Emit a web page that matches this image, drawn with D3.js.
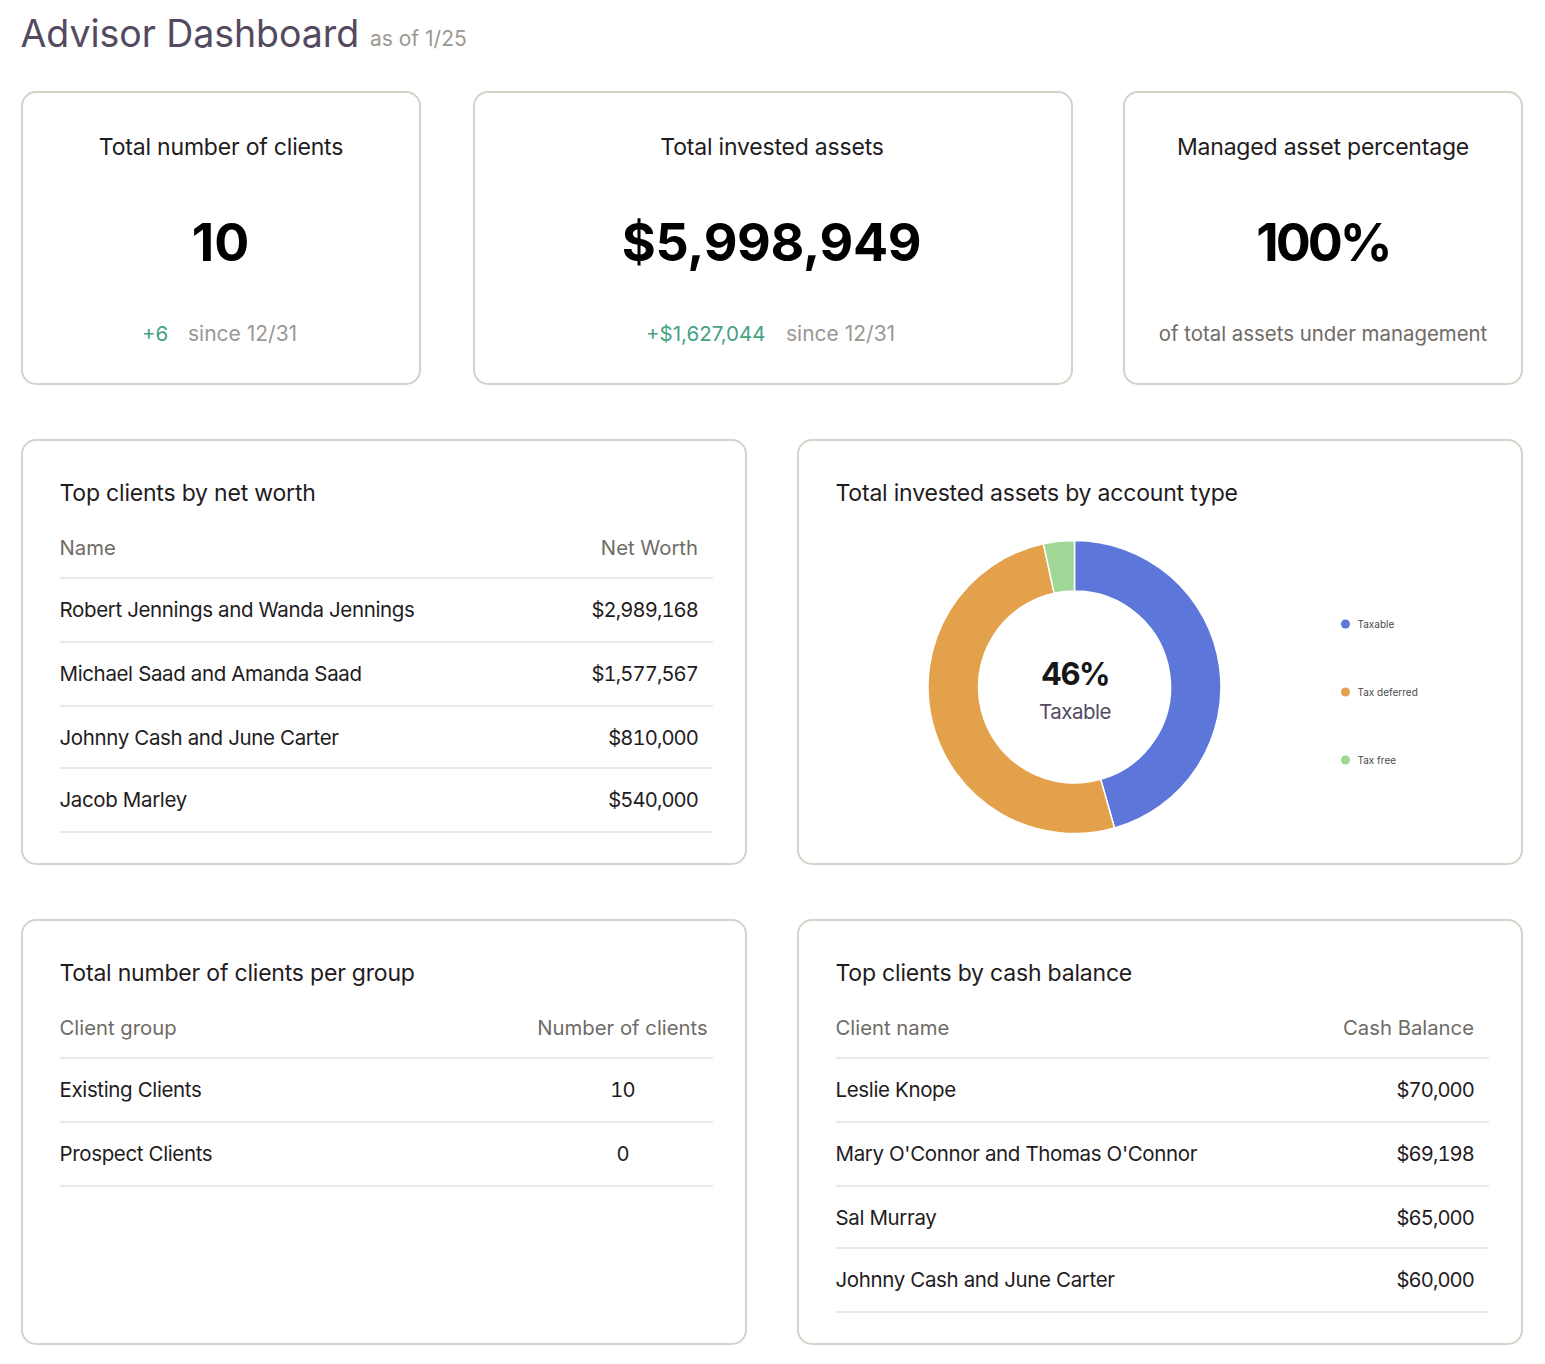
<!DOCTYPE html>
<html>
<head>
<meta charset="utf-8">
<title>Advisor Dashboard</title>
<script src="https://cdn.jsdelivr.net/npm/d3@7"></script>
<style>
  html, body { margin: 0; padding: 0; background: #fff; }
  svg { display: block; }
  text { font-family: Inter, "Noto Sans", sans-serif; }
</style>
</head>
<body>
<svg></svg>
<script>
const width = 1545;
const height = 1364;

const accountTypes = ["Taxable", "Tax deferred", "Tax free"];
const accountShares = [45.6, 51, 3.4];
const accountColors = ["#5c76d9", "#e3a14b", "#a0d797"];

const netWorthNames = ["Robert Jennings and Wanda Jennings", "Michael Saad and Amanda Saad", "Johnny Cash and June Carter", "Jacob Marley"];
const netWorthValues = ["$2,989,168", "$1,577,567", "$810,000", "$540,000"];

const groupNames = ["Existing Clients", "Prospect Clients"];
const groupCounts = ["10", "0"];

const cashNames = ["Leslie Knope", "Mary O'Connor and Thomas O'Connor", "Sal Murray", "Johnny Cash and June Carter"];
const cashValues = ["$70,000", "$69,198", "$65,000", "$60,000"];

const svg = d3.select("svg")
    .attr("width", width)
    .attr("height", height)
    .attr("viewBox", [0, 0, width, height]);

const ink = "#1f1c1e";
const muted = "#6f6b66";
const faint = "#9c9893";
const green = "#46a283";
const plum = "#544a60";

function label(x, y, str, size, fill, anchor, weight, spacing) {
    return svg.append("text")
        .attr("x", x)
        .attr("y", y)
        .attr("font-size", size)
        .attr("fill", fill)
        .attr("text-anchor", anchor || "start")
        .attr("font-weight", weight || 400)
        .attr("letter-spacing", spacing || 0)
        .text(str);
}

function card(x0, y0, x1, y1) {
    svg.append("rect")
        .attr("x", x0)
        .attr("y", y0)
        .attr("width", x1 - x0)
        .attr("height", y1 - y0)
        .attr("rx", 14)
        .attr("fill", "#fff")
        .attr("stroke", "#d5d2c9")
        .attr("stroke-width", 2);
}

// Header
label(20.5, 47, "Advisor Dashboard", 37.5, plum, "start", 400, -0.05);
label(370, 46, "as of 1/25", 21, faint);

// Stat cards
const titleSpacing = -0.2;

card(22, 92, 420, 384);
label(221, 155, "Total number of clients", 23, ink, "middle", 400, titleSpacing);
label(220.5, 261, "10", 52, "#000", "middle", 700);
label(142, 341, "+6", 20.5, green);
label(188, 341, "since 12/31", 21, faint);

card(474, 92, 1072, 384);
label(772, 155, "Total invested assets", 23, ink, "middle", 400, titleSpacing);
label(771.5, 261, "$5,998,949", 52, "#000", "middle", 700, -0.3);
label(646, 341, "+$1,627,044", 20.5, green);
label(786, 341, "since 12/31", 21, faint);

card(1124, 92, 1522, 384);
label(1323, 155, "Managed asset percentage", 23, ink, "middle", 400, titleSpacing);
label(1323, 261, "100%", 52, "#000", "middle", 700, -3);
label(1323, 341, "of total assets under management", 20.4, muted, "middle");

// Tables
const rowGaps = [0, 64, 64, 62, 64];

function table(opts) {
    const left = opts.x - 0.5;
    label(left, opts.y + 61, opts.title, 23, ink, "start", 400, titleSpacing);
    label(left, opts.y + 115, opts.head[0], 20.3, muted);
    label(opts.valueX, opts.y + 115, opts.head[1], 20.3, muted, opts.anchor);

    const rows = opts.names.map((name, i) => ({name, value: opts.values[i]}));
    const lineY = d3.cumsum(rowGaps.slice(0, rows.length + 1)).map(d => opts.y + 138 + d);

    svg.append("g")
        .selectAll("line")
        .data(lineY)
        .join("line")
        .attr("x1", opts.x)
        .attr("x2", opts.x + 653)
        .attr("y1", d => d)
        .attr("y2", d => d)
        .attr("stroke", "#ebe9e4")
        .attr("stroke-width", 2);

    svg.append("g")
        .selectAll("text")
        .data(rows)
        .join("text")
        .attr("x", left)
        .attr("y", (d, i) => lineY[i] + 39)
        .attr("font-size", 20.5)
        .attr("letter-spacing", -0.36)
        .attr("fill", ink)
        .text(d => d.name);

    svg.append("g")
        .selectAll("text")
        .data(rows)
        .join("text")
        .attr("x", opts.valueX)
        .attr("y", (d, i) => lineY[i] + 39)
        .attr("font-size", 20.2)
        .attr("letter-spacing", -0.9)
        .attr("fill", ink)
        .attr("text-anchor", opts.anchor)
        .style("font-variant-numeric", "tabular-nums")
        .text(d => d.value);
}

card(22, 440, 746, 864);
table({x: 60, y: 440, title: "Top clients by net worth", head: ["Name", "Net Worth"],
    names: netWorthNames, values: netWorthValues, valueX: 698, anchor: "end"});

card(22, 920, 746, 1344);
table({x: 60, y: 920, title: "Total number of clients per group", head: ["Client group", "Number of clients"],
    names: groupNames, values: groupCounts, valueX: 622.5, anchor: "middle"});

card(798, 920, 1522, 1344);
table({x: 836, y: 920, title: "Top clients by cash balance", head: ["Client name", "Cash Balance"],
    names: cashNames, values: cashValues, valueX: 1474, anchor: "end"});

// Donut
card(798, 440, 1522, 864);
label(835.5, 501, "Total invested assets by account type", 23, ink, "start", 400, titleSpacing);

const pie = d3.pie().sort(null)(accountShares);
const arc = d3.arc().innerRadius(96).outerRadius(146.5);
const donut = svg.append("g").attr("transform", "translate(1074.5,687)");

donut.selectAll("path")
    .data(pie)
    .join("path")
    .attr("d", arc)
    .attr("fill", (d, i) => accountColors[i])
    .attr("stroke", "#fff")
    .attr("stroke-width", 1.5);

label(1075, 685, "46%", 31, "#161616", "middle", 700, -1.6);
label(1075, 719, accountTypes[0], 20.5, plum, "middle", 400, -0.5);

const legendY = d3.scalePoint()
    .domain(accountTypes)
    .range([624, 760]);

const legend = svg.append("g")
    .selectAll("g")
    .data(accountTypes)
    .join("g")
    .attr("transform", d => `translate(1345.5,${legendY(d)})`);

legend.append("circle")
    .attr("r", 4.5)
    .attr("fill", (d, i) => accountColors[i]);

legend.append("text")
    .attr("x", 12)
    .attr("y", 3.5)
    .attr("font-size", 10)
    .attr("fill", "#4a4a4a")
    .text(d => d);
</script>
</body>
</html>
